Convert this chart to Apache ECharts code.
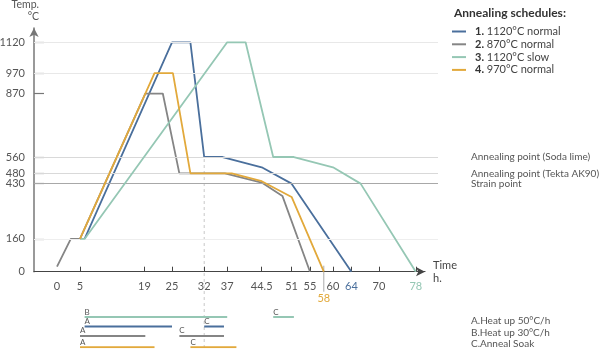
<!DOCTYPE html>
<html><head><meta charset="utf-8">
<script src="https://cdn.jsdelivr.net/npm/echarts@6/dist/echarts.min.js"></script>
<style>html,body{margin:0;padding:0;background:#fff}#c{width:600px;height:349px}</style>
</head><body><div id="c"></div>
<script>
// ---- data ----
const names = ['1120°C normal', '870°C normal', '1120°C slow', '970°C normal'];
const nums = ['1.', '2.', '3.', '4.'];
const colors = ['#4a6f9c', '#858585', '#95c7b4', '#e2a93b'];

const blueT = [5, 6, 25, 29, 32, 36, 44.5, 51, 64];
const blueV = [160, 160, 1120, 1120, 560, 560, 510, 430, 0];
const grayT = [0, 3, 5, 19.2, 23, 26.6, 36.5, 44.5, 49, 55];
const grayV = [25, 160, 160, 870, 870, 480, 480, 435, 370, 0];
const tealT = [5, 6, 37, 41, 47, 51.5, 60, 66, 78];
const tealV = [160, 160, 1120, 1120, 560, 560, 510, 430, 0];
const orangeT = [5, 21.2, 25.2, 29, 38, 44.5, 51, 58];
const orangeV = [160, 970, 970, 480, 480, 442, 365, 0];

const xTicks = [5, 19, 25, 32, 37, 44.5, 51, 55, 60, 64, 70, 78];
const xLabels = [0, 5, 19, 25, 32, 37, 44.5, 51, 55, 58, 60, 64, 70, 78];
const yTicks = [160, 430, 480, 560, 870, 970, 1120];
const yLabels = [0, 160, 430, 480, 560, 870, 970, 1120];

const refValues = [1120, 970, 560, 480, 430, 160];
const refLabels = ['', '', 'Annealing point (Soda lime)', 'Annealing point (Tekta AK90)', 'Strain point', ''];
const refColors = ['#e8e8e8', '#e8e8e8', '#d9d9d9', '#d9d9d9', '#a8a8a8', '#eeeeee'];

// phases: [letter, start, end]
const bluePhases = [['A', 6, 25], ['C', 32, 36.3]];
const grayPhases = [['A', 5, 19.2], ['C', 26.6, 36.3]];
const tealPhases = [['B', 6, 37], ['C', 47, 51.5]];
const orangePhases = [['A', 5, 21.2], ['C', 29, 39]];
const phaseRows = [1, 2, 0, 3.2]; // row per schedule (blue, gray, teal, orange)

const notes = ['A.Heat up 50°C/h', 'B.Heat up 30°C/h', 'C.Anneal Soak'];
const markT = [32, 58];

// ---- chart ----
const FONT = 'Lato';
const chart = echarts.init(document.getElementById('c'), null, {renderer: 'canvas'});
const zip = (t, v) => t.map((x, i) => [x, v[i]]);
const mainData = [zip(blueT, blueV), zip(grayT, grayV), zip(tealT, tealV), zip(orangeT, orangeV)];
const phaseSets = [bluePhases, grayPhases, tealPhases, orangePhases];
const labelColor = {58: colors[3], 64: colors[0], 78: colors[2]};

const series = [];
// reference lines (wide grid)
series.push({
  type: 'line', xAxisIndex: 1, yAxisIndex: 1, data: [], z: 0, silent: true,
  markLine: {
    silent: true, symbol: 'none', animation: false,
    data: refValues.map((v, i) => ({
      yAxis: v,
      lineStyle: {color: refColors[i], type: 'solid', width: 1},
      label: {show: refLabels[i] !== '', position: 'end', distance: 33, formatter: refLabels[i],
        color: '#555', fontSize: 10, fontFamily: FONT, align: 'left'}
    }))
  }
});
mainData.forEach((d, i) => {
  series.push({
    name: names[i], type: 'line', xAxisIndex: 0, yAxisIndex: 0, data: d,
    showSymbol: false, symbol: 'none', color: colors[i],
    lineStyle: {width: 1.8, color: colors[i]}, z: 3 + i
  });
});
phaseSets.forEach((ph, i) => {
  ph.forEach(p => {
    series.push({
      name: 'phase' + i + p[0], type: 'line', xAxisIndex: 2, yAxisIndex: 2,
      data: [
        {value: [p[1], phaseRows[i]], label: {show: true, formatter: p[0], position: 'top', distance: 1, align: 'left',
          color: '#555', fontSize: 8, fontFamily: FONT}},
        {value: [p[2], phaseRows[i]], label: {show: false}}
      ],
      symbol: 'circle', symbolSize: 0.01, showSymbol: true,
      lineStyle: {width: 2, color: colors[i]}, itemStyle: {color: colors[i]}
    });
  });
});

const notesGraphic = () => notes.map((t, i) => ({
  type: 'text', left: 471, top: 316 + i * 11.3,
  style: {text: t, fontSize: 10, fill: '#555', fontFamily: FONT}
}));

chart.setOption({
  animation: false,
  textStyle: {fontFamily: FONT},
  title: {text: 'Annealing schedules:', left: 449, top: 2,
    textStyle: {fontSize: 12, fontWeight: 'bold', color: '#333', fontFamily: FONT}},
  legend: {
    data: names, orient: 'vertical', left: 447, top: 21, icon: 'rect', itemWidth: 14, itemHeight: 2,
    itemGap: 1.8, selectedMode: false,
    formatter: n => '{b|' + nums[names.indexOf(n)] + '} ' + n,
    textStyle: {fontSize: 11, color: '#444', fontFamily: FONT, padding: [0, 0, 0, 4],
      rich: {b: {fontWeight: 'bold', fontSize: 11, color: '#333', fontFamily: FONT}}}
  },
  grid: [
    {left: 34, right: 175, top: 28, bottom: 77.3, outerBoundsMode: 'none', containLabel: false},
    {left: 34, right: 162, top: 28, bottom: 77.3, outerBoundsMode: 'none', containLabel: false},
    {left: 34, right: 175, top: 317, height: 30.2, outerBoundsMode: 'none', containLabel: false}
  ],
  xAxis: [
    {type: 'value', gridIndex: 0, min: -5, max: 80,
      name: 'Time\nh.', nameLocation: 'end', nameGap: 8,
      nameTextStyle: {align: 'left', verticalAlign: 'middle', lineHeight: 13, fontSize: 11, color: '#444', padding: [12, 0, 0, 0], fontFamily: FONT},
      axisLine: {show: true, onZero: false, lineStyle: {color: '#444', width: 1.2}, symbol: ['none', 'arrow'], symbolSize: [7, 9]},
      axisTick: {show: true, inside: true, length: 5, customValues: xTicks, lineStyle: {color: '#444'}},
      axisLabel: {customValues: xLabels, margin: 9, fontSize: 11, color: '#555', lineHeight: 12, fontFamily: FONT,
        formatter: v => (v === 58 ? '\n{o|58}' : (labelColor[v] ? '{c' + v + '|' + v + '}' : String(v))),
        rich: {o: {color: colors[3], fontSize: 11, fontFamily: FONT},
               c64: {color: colors[0], fontSize: 11, fontFamily: FONT},
               c78: {color: colors[2], fontSize: 11, fontFamily: FONT}}},
      splitLine: {show: false}},
    {type: 'value', gridIndex: 1, min: -5, max: 80, show: false},
    {type: 'value', gridIndex: 2, min: -5, max: 80, show: false}
  ],
  yAxis: [
    {type: 'value', gridIndex: 0, min: 0, max: 1190,
      name: 'Temp.\n°C', nameLocation: 'end', nameGap: 5,
      nameTextStyle: {align: 'right', verticalAlign: 'bottom', lineHeight: 12, fontSize: 10.5, color: '#555', padding: [0, -5, 0, 0], fontFamily: FONT},
      axisLine: {show: true, onZero: false, lineStyle: {color: '#777', width: 1.5}, symbol: ['none', 'arrow'], symbolSize: [7, 9]},
      axisTick: {show: true, inside: true, length: 10, customValues: yTicks, lineStyle: {color: '#777', width: 1.2}},
      axisLabel: {customValues: yLabels, margin: 9, fontSize: 11, color: '#555', fontFamily: FONT, formatter: v => String(v)},
      splitLine: {show: false}},
    {type: 'value', gridIndex: 1, min: 0, max: 1190, show: false},
    {type: 'value', gridIndex: 2, min: 0, max: 3.2, inverse: true, show: false}
  ],
  graphic: notesGraphic(),
  series: series
});

// guide lines placed through the axis scale
const p32top = chart.convertToPixel({gridIndex: 0}, [markT[0], 560]);
const p58 = chart.convertToPixel({gridIndex: 0}, [markT[1], 0]);
chart.setOption({
  graphic: notesGraphic().concat([
    {type: 'line', shape: {x1: p32top[0], y1: p32top[1] + 2, x2: p32top[0], y2: 349}, z: 0,
      style: {stroke: '#c8c8c8', lineWidth: 1, lineDash: [3, 3]}},
    {type: 'line', shape: {x1: p58[0], y1: p58[1] - 6, x2: p58[0], y2: p58[1] + 20}, z: 0,
      style: {stroke: '#aaa', lineWidth: 1}}
  ])
});
</script></body></html>
